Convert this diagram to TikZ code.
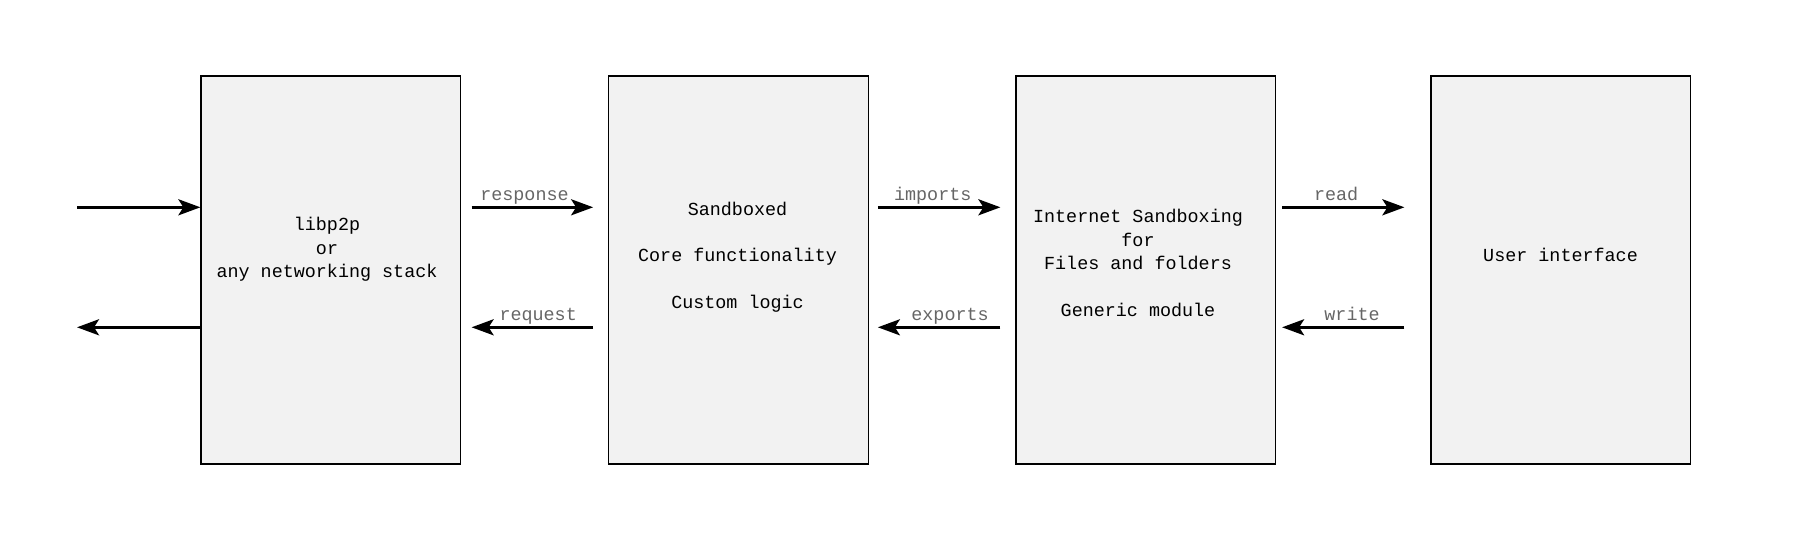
\documentclass[tikz,border=0pt]{standalone}
\usepackage{fontspec}
\setmonofont{Liberation Mono}
\usetikzlibrary{arrows.meta}
\definecolor{boxfill}{HTML}{F2F2F2}
\definecolor{lblgrey}{HTML}{666666}

\begin{document}
\begin{tikzpicture}[x=0.5pt,y=-0.5pt,
    modbox/.style={draw=black, line width=0.6pt, fill=boxfill, minimum width=129.75pt, minimum height=194pt, inner sep=0pt},
    modtext/.style={font=\ttfamily\fontsize{9.2}{11.65}\selectfont, align=center, inner sep=0pt},
    flow/.style={-{Stealth[length=11pt,width=8pt,inset=2.5pt]}, line width=1.5pt},
    flowlbl/.style={font=\ttfamily\fontsize{9.2}{11.65}\selectfont, text=lblgrey, anchor=base, yshift=3.3pt, inner sep=0pt}]
    \useasboundingbox (0,0) rectangle (1813,556);

    % Moduli
    \node[modbox] (net) at (330.75,270) {};
    \node[modbox] (core) at (738.5,270) {};
    \node[modbox] (files) at (1145.75,270) {};
    \node[modbox] (ui) at (1560.75,270) {};

    % Testi
    \node[modtext] (nettext) at (327,249.5) {libp2p\\or\\any networking stack};
    \node[modtext] (coretext) at (737.5,257) {Sandboxed\\[11.65pt]Core functionality\\[11.65pt]Custom logic};
    \node[modtext] (filestext) at (1138,263) {Internet Sandboxing\\for\\Files and folders\\[11.65pt]Generic module};
    \node[modtext] (uitext) at (1560.5,255) {User interface};

    % Righe delle frecce
    \coordinate (uprow) at (0,207.3);
    \coordinate (dnrow) at (0,327.3);
    \coordinate (inend) at (77,207.3);
    \coordinate (outend) at (77,327.3);

    % Frecce
    \draw[flow] (inend) -- (net.west |- inend);
    \draw[flow] (net.west |- outend) -- (outend);

    \draw[flow, shorten <=5.25pt, shorten >=7.5pt] (net.east |- uprow) -- node[flowlbl, pos=0.431] (resplbl) {response} (core.west |- uprow);
    \draw[flow, shorten <=7.5pt, shorten >=5.25pt] (core.west |- dnrow) -- node[flowlbl, pos=0.476] (reqlbl) {request} (net.east |- dnrow);

    \draw[flow, shorten <=4.5pt, shorten >=7.5pt] (core.east |- uprow) -- node[flowlbl, pos=0.436] (implbl) {imports} (files.west |- uprow);
    \draw[flow, shorten <=7.5pt, shorten >=4.5pt] (files.west |- dnrow) -- node[flowlbl, pos=0.446] (explbl) {exports} (core.east |- dnrow);

    \draw[flow, shorten <=3pt, shorten >=13pt] (files.east |- uprow) -- node[flowlbl, pos=0.389] (readlbl) {read} (ui.west |- uprow);
    \draw[flow, shorten <=13pt, shorten >=3pt] (ui.west |- dnrow) -- node[flowlbl, pos=0.508] (writelbl) {write} (files.east |- dnrow);
\end{tikzpicture}
\end{document}
